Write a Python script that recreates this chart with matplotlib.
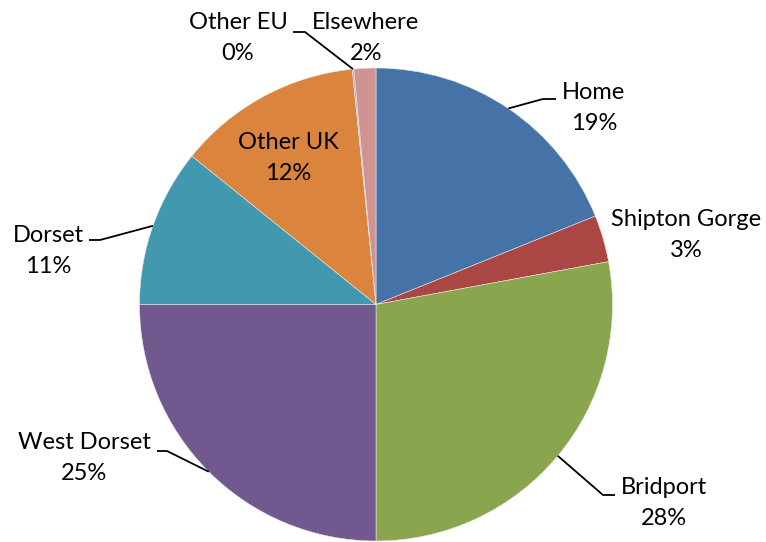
import numpy as np
import matplotlib.pyplot as plt

# slice data (clockwise from the top)
names = ["Home", "Shipton Gorge", "Bridport", "West Dorset", "Dorset",
         "Other UK", "Other EU", "Elsewhere"]
shares = [18.9, 3.2, 27.9, 25.0, 10.8, 12.6, 0.1, 1.5]
shown = ["19%", "3%", "28%", "25%", "11%", "12%", "0%", "2%"]
colours = ["#4572A7", "#AA4643", "#89A54E", "#71588F", "#4198AF",
           "#DB843D", "#93A9CF", "#D19392"]

# pixel layout of the picture
W, H = 766, 542
cx, cy, R = 376, 304.5, 236.5

def px(x, y):
    return (x - cx) / R, (cy - y) / R

# label centre and leader elbow (pixels), None = no leader
lab_pos = {"Home": (594, 108), "Shipton Gorge": (686, 235),
           "Bridport": (664, 503), "West Dorset": (84, 458),
           "Dorset": (48, 251), "Other UK": (288, 158),
           "Other EU": (238, 38), "Elsewhere": (366, 38)}
elbow = {"Home": [(543, 99), (556, 99)],
         "Bridport": [(603, 495), (615, 495)],
         "West Dorset": [(167, 451), (157, 451)],
         "Dorset": [(100, 240), (89, 240)],
         "Other EU": [(305, 32), (293, 32)]}

plt.rcParams['font.family'] = ['Lato', 'DejaVu Sans']

fig = plt.figure(figsize=(W / 100, H / 100), dpi=100)
ax = fig.add_axes([0, 0, 1, 1])

wedges, _ = ax.pie(shares, colors=colours, startangle=90, counterclock=False,
                   radius=1, wedgeprops=dict(edgecolor="#e8e8e8", linewidth=0.4))

for w, n, s in zip(wedges, names, shown):
    x, y = px(*lab_pos[n])
    ax.text(x, y, n + "\n" + s, ha="center", va="center", fontsize=17,
            color="black", linespacing=1.55)
    if n in elbow:
        mid = np.radians((w.theta1 + w.theta2) / 2)
        pts = [(np.cos(mid), np.sin(mid))] + [px(*p) for p in elbow[n]]
        xs, ys = zip(*pts)
        ax.plot(xs, ys, color="black", lw=1.3, solid_capstyle="butt")

ax.set_xlim(-cx / R, (W - cx) / R)
ax.set_ylim((cy - H) / R, cy / R)
ax.set_aspect("equal")
ax.axis("off")

fig.savefig("out.png", dpi=100)
